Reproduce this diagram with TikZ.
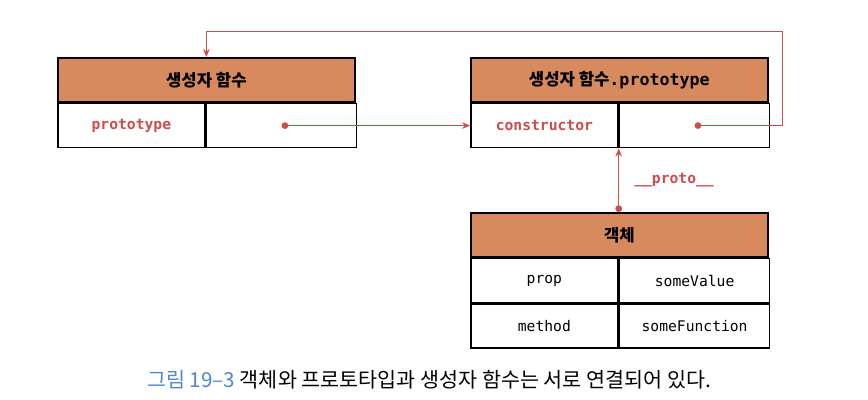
\documentclass[tikz,border=0pt]{standalone}
\usepackage{fontspec}
\setmonofont{DejaVu Sans Mono}
\newfontfamily\krfont{Noto Sans CJK KR}
\usetikzlibrary{positioning,arrows.meta}
\definecolor{headFill}{HTML}{D68A5E}
\definecolor{linkRed}{HTML}{D24B4B}
\definecolor{capBlue}{HTML}{4F86D6}

\begin{document}
\begin{tikzpicture}[
    x=0.75pt, y=-0.75pt,
    head/.style={
        rectangle, draw, fill=headFill,
        minimum width=222.75pt, minimum height=33pt,
        line width=1.3pt, inner sep=0pt,
        font=\krfont\bfseries\fontsize{12.5}{14}\selectfont
    },
    keycell/.style={
        rectangle, draw, fill=white,
        minimum width=110.25pt, minimum height=33pt,
        line width=1.3pt, inner sep=0pt,
        font=\ttfamily\fontsize{11}{13}\selectfont
    },
    valcell/.style={keycell, minimum width=112.5pt},
    redkey/.style={text=linkRed, font=\ttfamily\bfseries\fontsize{11}{13}\selectfont},
    link/.style={{Circle[length=5pt]}-{Stealth[length=6pt,width=5pt]}, draw=linkRed, line width=0.7pt}
]
  \useasboundingbox (0,0) rectangle (868,400);

  % Constructor function
  \node[head, anchor=north west] (fhead) at (57,57) {생성자 함수};
  \node[keycell, redkey, anchor=north west] (pkey) at (fhead.south west) {prototype};
  \node[valcell, anchor=west] (pval) at (pkey.east) {};

  % Prototype object
  \node[head, anchor=north west] (chead) at (470,57) {생성자 함수\texttt{.prototype}};
  \node[keycell, redkey, anchor=north west] (ckey) at (chead.south west) {constructor};
  \node[valcell, anchor=west] (cval) at (ckey.east) {};

  % Instance
  \node[head, anchor=north west] (ohead) at (470,212) {객체};
  \node[keycell, anchor=north west] (okey1) at (ohead.south west) {prop};
  \node[valcell, anchor=west] (oval1) at (okey1.east) {someValue};
  \node[keycell, anchor=north west] (okey2) at (okey1.south west) {method};
  \node[valcell, anchor=west] (oval2) at (okey2.east) {someFunction};

  % Links
  \coordinate (loop) at (782,31);
  \draw[link] (pval.center) -- (ckey.west);
  \draw[link] (cval.center) -| (loop) -| (fhead.north);
  \draw[link] (ohead.north -| ckey.east) -- (ckey.south east)
      node[midway, right=8pt, redkey] {\_\_proto\_\_};

  % Caption
  \node[font=\krfont\fontsize{15.5}{18}\selectfont] (caption) at (429,380)
      {\textcolor{capBlue}{그림 19–3} 객체와 프로토타입과 생성자 함수는 서로 연결되어 있다.};
\end{tikzpicture}
\end{document}
